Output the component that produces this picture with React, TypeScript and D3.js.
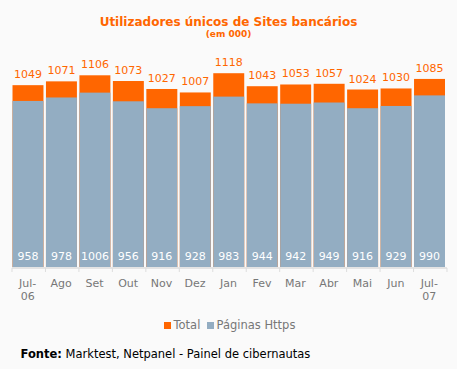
import React from "react";
import * as d3 from "d3";

const categories = ["Jul-\n06", "Ago", "Set", "Out", "Nov", "Dez", "Jan", "Fev", "Mar", "Abr", "Mai", "Jun", "Jul-\n07"];
const totalValues = [1049, 1071, 1106, 1073, 1027, 1007, 1118, 1043, 1053, 1057, 1024, 1030, 1085];
const httpsValues = [958, 978, 1006, 956, 916, 928, 983, 944, 942, 949, 916, 929, 990];
const seriesNames = ["Total", "Páginas Https"];

const W = 457;
const H = 369;
const ORANGE = "#ff6600";
const BLUE = "#93adc2";
const FONT = "'DejaVu Sans', Verdana, sans-serif";

export default function App() {
  const x = d3.scaleBand<number>().domain(d3.range(categories.length)).range([12, 447]).padding(0);
  const y = d3.scaleLinear().domain([0, 1200]).range([267, 59]);
  const step = x.step();

  return (
    <svg width={W} height={H} style={{ position: "absolute", left: 0, top: 0 }} fontFamily={FONT}>
      <rect x={0} y={0} width={W} height={H} fill="#fafafa" />
      <text x={W / 2} y={26} textAnchor="middle" fontSize={12} fontWeight="bold" fill={ORANGE}>
        Utilizadores únicos de Sites bancários
      </text>
      <text x={W / 2} y={37} textAnchor="middle" fontSize={9} fontWeight="bold" fill={ORANGE}>
        (em 000)
      </text>
      {totalValues.map((v, i) => {
        const bx = (x(i) as number) + 0.5;
        const bw = step - 2.5;
        return (
          <g key={i}>
            <rect x={bx} y={y(v)} width={bw} height={y(0) - y(v)} fill={ORANGE} />
            <rect x={bx} y={y(httpsValues[i])} width={bw} height={y(0) - y(httpsValues[i])} fill={BLUE} />
            <text x={bx + bw / 2} y={y(v) - 7} textAnchor="middle" fontSize={11} fill={ORANGE}>
              {v}
            </text>
            <text x={bx + bw / 2} y={260} textAnchor="middle" fontSize={11} fill="#ffffff">
              {httpsValues[i]}
            </text>
          </g>
        );
      })}
      <line x1={12} x2={447} y1={268} y2={268} stroke="#dddddd" strokeWidth={1.5} />
      {d3.range(categories.length + 1).map((i) => (
        <line key={i} x1={12 + i * step} x2={12 + i * step} y1={268} y2={272} stroke="#dddddd" strokeWidth={1} />
      ))}
      {categories.map((c, i) => {
        const cx = (x(i) as number) + step / 2 - 1;
        return (
          <text key={i} x={cx} y={287} textAnchor="middle" fontSize={11} fill="#777777">
            {c.split("\n").map((line, j) => (
              <tspan key={j} x={cx} dy={j === 0 ? 0 : 13}>
                {line}
              </tspan>
            ))}
          </text>
        );
      })}
      <rect x={164} y={322} width={7} height={7} fill={ORANGE} />
      <text x={173.5} y={329} fontSize={11.5} fill="#777777">{seriesNames[0]}</text>
      <rect x={207} y={322} width={7} height={7} fill={BLUE} />
      <text x={216.5} y={329} fontSize={11.5} fill="#777777">{seriesNames[1]}</text>
      <text x={20.5} y={358} fontSize={11.5} fill="#000000">
        <tspan fontWeight="bold">Fonte:</tspan> Marktest, Netpanel - Painel de cibernautas
      </text>
    </svg>
  );
}
